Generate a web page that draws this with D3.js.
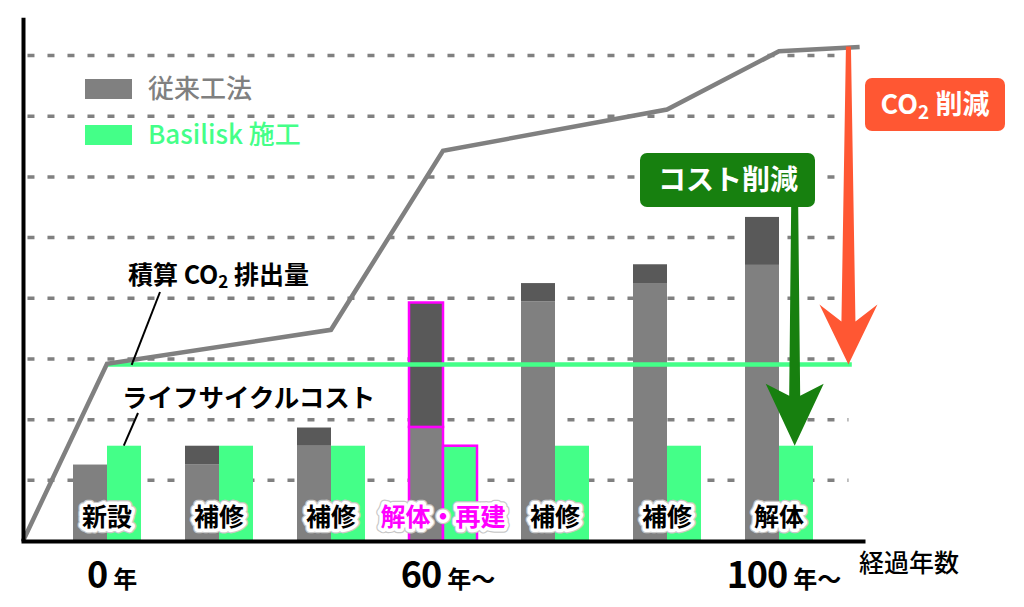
<!DOCTYPE html>
<html>
<head>
<meta charset="utf-8">
<script src="https://cdn.jsdelivr.net/npm/d3@7"></script>
<style>
  body { margin: 0; background: #fff; }
  text { font-family: "Noto Sans CJK JP", "Noto Sans", sans-serif; }
</style>
</head>
<body>
<script>
// stages along the time axis
let categories = ["新設", "補修", "補修", "解体・再建", "補修", "補修", "解体"];
let highlighted = [false, false, false, true, false, false, false];

// conventional method: lower (carried over) + upper (added this stage)
let conventionalBase = [1.26, 1.26, 1.57, 1.88, 3.95, 4.24, 4.55];
let conventionalAdd = [0, 0.31, 0.30, 2.05, 0.30, 0.32, 0.79];
// Basilisk method
let basiliskCost = [1.57, 1.57, 1.57, 1.57, 1.57, 1.57, 1.57];

// cumulative CO2 emission line (x in stage units)
let co2X = [-0.75, 0, 2, 3, 5, 6, 6.72];
let co2Y = [0, 2.92, 3.48, 6.43, 7.11, 8.07, 8.14];

// life cycle cost line
let lccX = [0, 6.65];
let lccY = [2.91, 2.91];

let gridValues = [1, 2, 3, 4, 5, 6, 7, 8];

let yearTickIndex = [0, 3, 6];
let yearTickNum = ["0", "60", "100"];
let yearTickUnit = ["年", "年〜", "年〜"];

let colors = {
    convLight: "#808080",
    convDark: "#595959",
    basilisk: "#44ff88",
    grid: "#808080",
    co2: "#808080",
    magenta: "#ff00ff",
    red: "#ff5733",
    green: "#17800f"
};

let svgWidth = 1024,
    svgHeight = 607,
    barWidth = 34;

let svgContainer;
let xScale = d3.scaleLinear().domain([-0.75, 6.75]).range([23, 863]);
let yScale = d3.scaleLinear().domain([0, 8]).range([541, 55.5]);

function init() {
    svgContainer = d3.select("body").append("svg")
        .attr("width", svgWidth)
        .attr("height", svgHeight);

    drawGrid();
    drawBars();
    drawLines();
    drawAxes();
    drawArrows();
    drawLegend();
    drawLabels();
}

function drawGrid() {
    svgContainer.append("g")
        .selectAll("line")
        .data(gridValues)
        .join("line")
        .attr("x1", xScale(-0.71))
        .attr("x2", xScale(6.62))
        .attr("y1", d => yScale(d))
        .attr("y2", d => yScale(d))
        .attr("stroke", colors.grid)
        .attr("stroke-width", 3.5)
        .attr("stroke-dasharray", "7,13");
}

function drawBars() {
    let g = svgContainer.append("g");
    let idx = d3.range(categories.length);

    // conventional lower part
    g.selectAll(".base")
        .data(idx)
        .join("rect")
        .attr("x", i => xScale(i) - barWidth)
        .attr("width", barWidth)
        .attr("y", i => yScale(conventionalBase[i]))
        .attr("height", i => yScale(0) - yScale(conventionalBase[i]))
        .attr("fill", colors.convLight)
        .attr("stroke", i => highlighted[i] ? colors.magenta : "none")
        .attr("stroke-width", 2.5);

    // conventional added part
    g.selectAll(".add")
        .data(idx.filter(i => conventionalAdd[i] > 0))
        .join("rect")
        .attr("x", i => xScale(i) - barWidth)
        .attr("width", barWidth)
        .attr("y", i => yScale(conventionalBase[i] + conventionalAdd[i]))
        .attr("height", i => yScale(conventionalBase[i]) - yScale(conventionalBase[i] + conventionalAdd[i]))
        .attr("fill", colors.convDark)
        .attr("stroke", i => highlighted[i] ? colors.magenta : "none")
        .attr("stroke-width", 2.5);

    // Basilisk
    g.selectAll(".bas")
        .data(idx)
        .join("rect")
        .attr("x", i => xScale(i))
        .attr("width", barWidth)
        .attr("y", i => yScale(basiliskCost[i]))
        .attr("height", i => yScale(0) - yScale(basiliskCost[i]))
        .attr("fill", colors.basilisk)
        .attr("stroke", i => highlighted[i] ? colors.magenta : "none")
        .attr("stroke-width", 2.5);
}

function drawLines() {
    let line = d3.line().x(d => xScale(d[0])).y(d => yScale(d[1]));

    svgContainer.append("path")
        .datum(d3.zip(lccX, lccY))
        .attr("d", line)
        .attr("fill", "none")
        .attr("stroke", colors.basilisk)
        .attr("stroke-width", 4.5);

    svgContainer.append("path")
        .datum(d3.zip(co2X, co2Y))
        .attr("d", line)
        .attr("fill", "none")
        .attr("stroke", colors.co2)
        .attr("stroke-width", 4.5)
        .attr("stroke-linejoin", "miter");
}

function drawAxes() {
    let yAxisScale = d3.scaleLinear().domain([0, 8.63]).range([yScale(0), yScale(8.63)]);
    let xAxisScale = d3.scaleLinear().domain([-0.77, 6.77]).range([21, 865]);

    svgContainer.append("g")
        .attr("transform", "translate(" + xScale(-0.75) + ",0)")
        .call(d3.axisLeft(yAxisScale).tickValues([]).tickSizeOuter(0))
        .select(".domain")
        .attr("stroke", "#000")
        .attr("stroke-width", 4);

    svgContainer.append("g")
        .attr("transform", "translate(0," + yScale(0) + ")")
        .call(d3.axisBottom(xAxisScale).tickValues([]).tickSizeOuter(0))
        .select(".domain")
        .attr("stroke", "#000")
        .attr("stroke-width", 4);

    // year labels
    let t = svgContainer.append("g")
        .selectAll("text")
        .data(yearTickIndex)
        .join("text")
        .attr("x", i => xScale(i) + 5)
        .attr("y", 588)
        .attr("text-anchor", "middle")
        .attr("font-weight", 700)
        .attr("fill", "#000");
    t.append("tspan").attr("font-size", 36).attr("letter-spacing", -1).text((d, k) => yearTickNum[k]);
    t.append("tspan").attr("font-size", 24).attr("dx", 6).text((d, k) => yearTickUnit[k]);

    svgContainer.append("text")
        .attr("x", 859)
        .attr("y", 572)
        .attr("font-size", 25)
        .attr("font-weight", 500)
        .attr("fill", "#000")
        .text("経過年数");
}

function arrowPath(x, yTop, yTip, topW, shaftW, headW, wingLen, notchLen) {
    let p = d3.path();
    p.moveTo(x - topW / 2, yTop);
    p.lineTo(x - shaftW / 2, yTip - notchLen);
    p.lineTo(x - headW / 2, yTip - wingLen);
    p.lineTo(x, yTip);
    p.lineTo(x + headW / 2, yTip - wingLen);
    p.lineTo(x + shaftW / 2, yTip - notchLen);
    p.lineTo(x + topW / 2, yTop);
    p.closePath();
    return p.toString();
}

function drawArrows() {
    // CO2 reduction: from the end of the CO2 line down to the LCC line
    let rx = xScale(6.62);
    svgContainer.append("path")
        .attr("d", arrowPath(rx, yScale(8.15), yScale(lccY[1]), 5, 14, 58, 60, 43))
        .attr("fill", colors.red);

    // cost reduction: from label box to top of the Basilisk bar
    let gx = xScale(6.14);
    svgContainer.append("path")
        .attr("d", arrowPath(gx, 205, yScale(basiliskCost[6]), 7, 11, 58, 62, 50))
        .attr("fill", colors.green);

    svgContainer.append("rect")
        .attr("x", 865).attr("y", 78)
        .attr("width", 140).attr("height", 53)
        .attr("rx", 7)
        .attr("fill", colors.red);
    let co2Label = svgContainer.append("text")
        .attr("x", 935).attr("y", 114)
        .attr("text-anchor", "middle")
        .attr("font-size", 27)
        .attr("font-weight", 700)
        .attr("fill", "#fff");
    co2Label.append("tspan").text("CO");
    co2Label.append("tspan").attr("font-size", 19).attr("dy", 5).text("2");
    co2Label.append("tspan").attr("dy", -5).text(" 削減");

    svgContainer.append("rect")
        .attr("x", 640).attr("y", 153)
        .attr("width", 175).attr("height", 54)
        .attr("rx", 7)
        .attr("fill", colors.green);
    svgContainer.append("text")
        .attr("x", 728).attr("y", 190)
        .attr("text-anchor", "middle")
        .attr("font-size", 28)
        .attr("font-weight", 700)
        .attr("fill", "#fff")
        .text("コスト削減");
}

function drawLegend() {
    let items = [
        {label: "従来工法", color: colors.convLight, y: 79},
        {label: "Basilisk 施工", color: colors.basilisk, y: 125}
    ];
    let g = svgContainer.append("g");
    items.forEach(it => {
        g.append("rect")
            .attr("x", 85).attr("y", it.y)
            .attr("width", 47).attr("height", 20)
            .attr("fill", it.color);
        g.append("text")
            .attr("x", 148).attr("y", it.y + 19)
            .attr("font-size", 26)
            .attr("font-weight", 500)
            .attr("fill", it.color)
            .text(it.label);
    });
}

function drawLabels() {
    // cumulative CO2 label + leader
    let co2Text = svgContainer.append("text")
        .attr("x", 128).attr("y", 284)
        .attr("font-size", 25)
        .attr("font-weight", 700)
        .attr("fill", "#000");
    co2Text.append("tspan").text("積算 CO");
    co2Text.append("tspan").attr("font-size", 17).attr("dy", 4).text("2");
    co2Text.append("tspan").attr("dy", -4).text(" 排出量");

    svgContainer.append("line")
        .attr("x1", 160).attr("y1", 292)
        .attr("x2", xScale(0.22)).attr("y2", yScale(co2Y[1]) + 1)
        .attr("stroke", "#000").attr("stroke-width", 2);

    svgContainer.append("text")
        .attr("x", 122).attr("y", 407)
        .attr("font-size", 25.5)
        .attr("font-weight", 700)
        .attr("fill", "#000")
        .text("ライフサイクルコスト");

    svgContainer.append("line")
        .attr("x1", 138).attr("y1", 413)
        .attr("x2", xScale(0.15)).attr("y2", yScale(basiliskCost[0]))
        .attr("stroke", "#000").attr("stroke-width", 2);

    // stage labels with white halo (soft grey rim underneath)
    let idx = d3.range(categories.length);
    let labels = svgContainer.append("g");
    [{stroke: "#c8c8c8", width: 9.5}, {stroke: "#fff", width: 7}].forEach(layer => {
        labels.append("g")
            .selectAll("text")
            .data(idx)
            .join("text")
            .attr("x", i => xScale(i))
            .attr("y", 526)
            .attr("text-anchor", "middle")
            .attr("font-size", 25)
            .attr("font-weight", 700)
            .attr("fill", i => highlighted[i] ? colors.magenta : "#000")
            .attr("stroke", layer.stroke)
            .attr("stroke-width", layer.width)
            .attr("stroke-linejoin", "round")
            .attr("paint-order", "stroke")
            .text(i => categories[i]);
    });
}

init();
</script>
</body>
</html>
